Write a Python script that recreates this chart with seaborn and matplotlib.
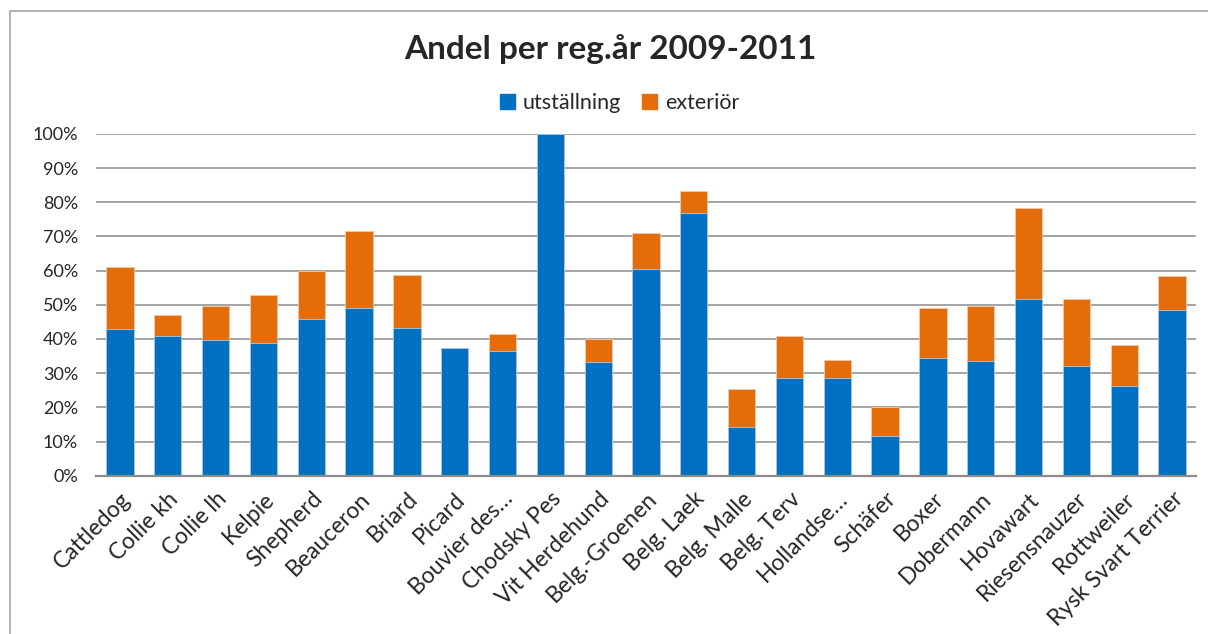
import matplotlib
matplotlib.use("Agg")
import matplotlib.pyplot as plt
import matplotlib.patches as mpatches
from matplotlib.ticker import PercentFormatter
import pandas as pd
import seaborn as sns

# Data (percent of dogs per breed)
breeds = ["Cattledog", "Collie kh", "Collie lh", "Kelpie", "Shepherd", "Beauceron",
          "Briard", "Picard", "Bouvier des…", "Chodsky Pes", "Vit Herdehund",
          "Belg.-Groenen", "Belg. Laek", "Belg. Malle", "Belg. Terv", "Hollandse…",
          "Schäfer", "Boxer", "Dobermann", "Hovawart", "Riesensnauzer", "Rottweiler",
          "Rysk Svart Terrier"]
utstallning = [43.0, 40.9, 39.7, 38.9, 45.9, 49.2, 43.3, 37.5, 36.5, 100.0, 33.3,
               60.5, 77.0, 14.3, 28.7, 28.7, 11.7, 34.5, 33.7, 51.8, 32.2, 26.3, 48.6]
exterior = [18.0, 6.1, 10.0, 14.1, 14.0, 22.4, 15.4, 0.0, 5.0, 0.0, 6.7,
            10.4, 6.3, 11.2, 12.3, 5.2, 8.4, 14.7, 15.9, 26.5, 19.5, 11.9, 9.8]

blue = "#0070C0"
orange = "#E46C0A"

df = pd.DataFrame({"breed": breeds, "utst": utstallning, "ext": exterior})
df["total"] = df["utst"] + df["ext"]

sns.set_style("white")
plt.rcParams["font.family"] = ["Lato", "DejaVu Sans"]

fig = plt.figure(figsize=(12.08, 6.34), dpi=100)
ax = fig.add_axes([0.0795, 0.2497, 0.9105, 0.539])

# stacked: total in orange behind, utställning in blue in front
sns.barplot(data=df, x="breed", y="total", color=orange, width=0.57,
            saturation=1, edgecolor="#f5c9a6", linewidth=0.6, ax=ax)
sns.barplot(data=df, x="breed", y="utst", color=blue, width=0.57,
            saturation=1, edgecolor="#a9cbe8", linewidth=0.6, ax=ax)

ax.set_ylim(0, 100)
ax.set_xlim(-0.5, len(breeds) - 0.5)
ax.set_yticks(range(0, 101, 10))
ax.yaxis.set_major_formatter(PercentFormatter(decimals=0))
ax.yaxis.grid(True, color="#8c8c8c", linewidth=1.1)
ax.set_axisbelow(True)
ax.set_xlabel("")
ax.set_ylabel("")
for s in ["left", "right", "top"]:
    ax.spines[s].set_visible(False)
ax.spines["bottom"].set_color("#8c8c8c")
ax.spines["bottom"].set_linewidth(1.6)
ax.tick_params(axis="y", length=0, pad=13, labelsize=13)
ax.tick_params(axis="x", length=0, pad=9, labelsize=16.5)
plt.setp(ax.get_xticklabels(), rotation=45, ha="right", rotation_mode="anchor")

fig.suptitle("Andel per reg.år 2009-2011", x=0.505, y=0.946, fontsize=24,
             fontweight="bold")

handles = [mpatches.Patch(color=blue, label="utställning"),
           mpatches.Patch(color=orange, label="exteriör")]
fig.legend(handles=handles, loc="center", bbox_to_anchor=(0.513, 0.838), ncol=2,
           frameon=False, fontsize=15.5, handlelength=0.7, handleheight=0.7,
           handletextpad=0.35, columnspacing=1.0)

# chart frame like the spreadsheet chart area
frame = mpatches.Rectangle((10 / 1208, -0.1), 1.2, 1.1 - 11 / 634,
                           transform=fig.transFigure, fill=False,
                           edgecolor="#a6a6a6", linewidth=1.2, clip_on=False)
fig.patches.append(frame)

fig.savefig("out.png", dpi=100)
